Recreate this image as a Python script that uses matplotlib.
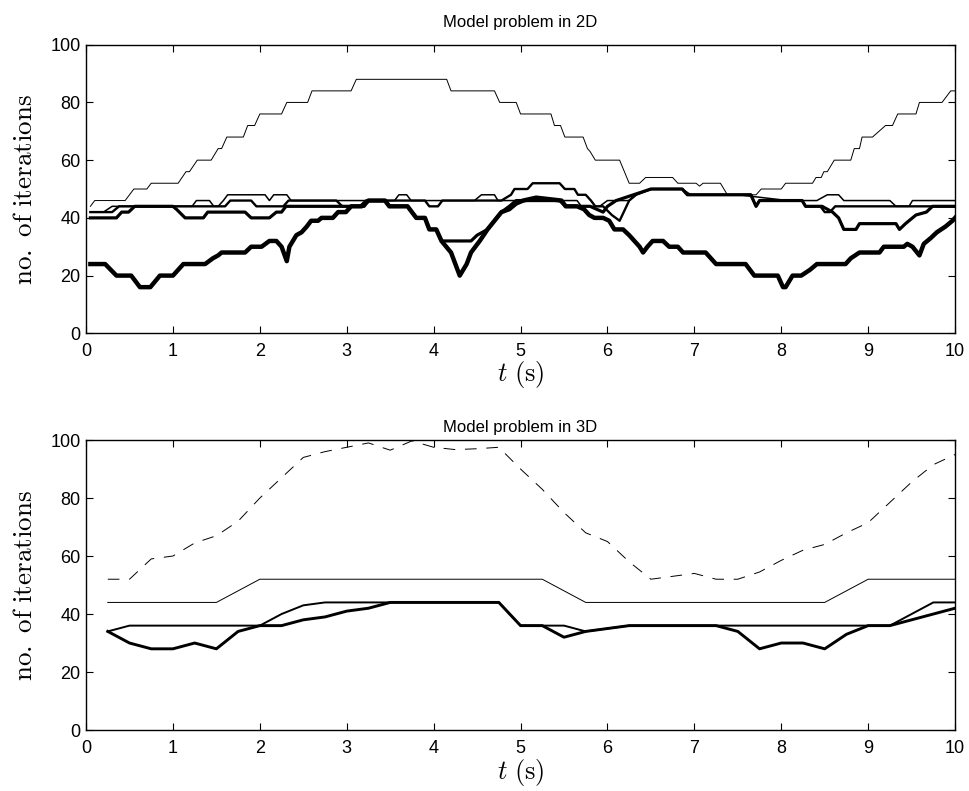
import matplotlib
matplotlib.use("Agg")
import matplotlib.pyplot as plt

plt.rcParams['font.family'] = ['Liberation Sans', 'DejaVu Sans']
plt.rcParams['mathtext.fontset'] = 'cm'

# ---- Model problem in 2D: vertices (time, iterations) of each curve ----
t2d_thin = [0.05, 0.10, 0.45, 0.55, 0.70, 0.75, 1.06, 1.15, 1.19, 1.28, 1.44, 1.52, 1.56, 1.62,
            1.81, 1.86, 1.94, 2.00, 2.25, 2.31, 2.55, 2.60, 3.05, 3.11, 4.15, 4.20, 4.70, 4.76,
            4.95, 5.00, 5.35, 5.39, 5.46, 5.51, 5.72, 5.77, 5.80, 5.86, 6.14, 6.25, 6.37, 6.44,
            6.75, 6.81, 7.02, 7.06, 7.10, 7.30, 7.38, 7.71, 7.77, 8.00, 8.05, 8.36, 8.40, 8.46,
            8.49, 8.53, 8.61, 8.80, 8.84, 8.90, 8.93, 9.05, 9.20, 9.28, 9.34, 9.55, 9.59, 9.85,
            9.95, 10.0]
n2d_thin = [44, 46, 46, 50, 50, 52, 52, 56, 56, 60, 60, 64, 64, 68,
            68, 72, 72, 76, 76, 80, 80, 84, 84, 88, 88, 84, 84, 80,
            80, 76, 76, 72, 72, 68, 68, 64, 63, 60, 60, 52, 52, 54,
            54, 52, 52, 51, 52, 52, 48, 48, 50, 50, 52, 52, 54, 54,
            56, 56, 60, 60, 64, 64, 68, 68, 72, 72, 76, 76, 80, 80,
            84, 84]

t2d_a = [0.05, 0.20, 0.30, 1.22, 1.27, 1.42, 1.47, 1.52, 1.58, 1.63, 2.06, 2.11, 2.16, 2.31,
         2.36, 3.55, 3.60, 3.69, 3.74, 4.47, 4.55, 4.70, 4.74, 5.65, 5.70, 5.91, 6.00, 6.25,
         6.31, 6.52, 6.86, 6.96, 7.51, 8.07, 8.41, 8.53, 8.66, 8.72, 9.25, 9.32, 9.47, 9.51, 10.0]
n2d_a = [42, 42, 44, 44, 46, 46, 44, 44, 46, 48, 48, 46, 48, 48,
         46, 46, 48, 48, 46, 46, 48, 48, 46, 46, 44, 44, 46, 46,
         48, 50, 50, 48, 48, 46, 46, 48, 48, 46, 46, 44, 44, 46, 46]

t2d_b = [0.05, 0.30, 0.38, 1.60, 1.66, 1.90, 1.96, 2.27, 2.33, 2.88, 2.95, 3.15, 3.22, 3.90,
         3.95, 4.05, 4.10, 4.78, 4.89, 4.93, 5.08, 5.14, 5.45, 5.51, 5.62, 5.66, 5.75, 5.81,
         5.86, 5.95, 6.05, 6.14, 6.25, 6.33, 6.50, 6.86, 6.92, 7.65, 7.71, 7.75, 8.24, 8.28,
         8.45, 8.50, 8.56, 8.62, 10.0]
n2d_b = [42, 42, 44, 44, 46, 46, 44, 44, 46, 46, 44, 44, 46, 46,
         44, 44, 46, 46, 48, 50, 50, 52, 52, 50, 50, 48, 48, 46,
         44, 44, 41, 39, 46, 48, 50, 50, 48, 48, 44, 46, 46, 44,
         44, 42, 42, 44, 44]

t2d_c = [0.05, 0.35, 0.41, 0.49, 0.56, 1.00, 1.04, 1.14, 1.35, 1.40, 1.83, 1.90, 2.11, 2.19,
         2.25, 2.30, 3.20, 3.25, 3.44, 3.49, 3.70, 3.80, 3.90, 3.95, 4.03, 4.09, 4.43, 4.50,
         4.62, 4.78, 4.87, 4.95, 5.45, 5.52, 5.80, 5.95, 6.00, 6.10, 6.30, 6.50, 6.86, 6.92,
         7.65, 7.71, 7.75, 8.24, 8.28, 8.47, 8.59, 8.66, 8.72, 8.86, 8.90, 9.32, 9.36, 9.43,
         9.55, 9.67, 9.74, 10.0]
n2d_c = [40, 40, 42, 42, 44, 44, 43, 40, 40, 42, 42, 40, 40, 42,
         42, 44, 44, 46, 46, 44, 44, 40, 40, 36, 36, 32, 32, 34,
         36, 42, 44, 46, 46, 44, 44, 42, 44, 46, 48, 50, 50, 48,
         48, 44, 46, 46, 44, 44, 42, 40, 36, 36, 38, 38, 36, 38,
         41, 42, 44, 44]

t2d_d = [0.05, 0.22, 0.35, 0.52, 0.62, 0.74, 0.85, 1.00, 1.12, 1.37, 1.46, 1.52, 1.56, 1.83,
         1.90, 2.02, 2.11, 2.19, 2.25, 2.31, 2.34, 2.42, 2.48, 2.54, 2.59, 2.67, 2.71, 2.84,
         2.90, 2.99, 3.05, 3.17, 3.25, 3.44, 3.49, 3.70, 3.80, 3.90, 3.95, 4.03, 4.09, 4.20,
         4.30, 4.38, 4.43, 4.53, 4.62, 4.78, 4.87, 4.95, 5.03, 5.18, 5.47, 5.52, 5.65, 5.73,
         5.79, 5.85, 5.95, 6.02, 6.08, 6.18, 6.25, 6.31, 6.37, 6.41, 6.46, 6.52, 6.64, 6.71,
         6.81, 6.87, 7.13, 7.25, 7.59, 7.69, 7.96, 8.02, 8.05, 8.13, 8.23, 8.33, 8.41, 8.48,
         8.74, 8.80, 8.90, 9.13, 9.18, 9.41, 9.45, 9.51, 9.59, 9.64, 9.72, 9.79, 9.89, 9.97,
         10.0]
n2d_d = [24, 24, 20, 20, 16, 16, 20, 20, 24, 24, 26, 27, 28, 28,
         30, 30, 32, 32, 30, 25, 30, 34, 35, 37, 39, 39, 40, 40,
         42, 42, 44, 44, 46, 46, 44, 44, 40, 40, 36, 36, 32, 28,
         20, 24, 28, 32, 36, 42, 43, 45, 46, 47, 46, 44, 44, 43,
         41, 40, 40, 39, 36, 36, 34, 32, 30, 28, 30, 32, 32, 30,
         30, 28, 28, 24, 24, 20, 20, 16, 16, 20, 20, 22, 24, 24,
         24, 26, 28, 28, 30, 30, 31, 30, 27, 31, 33, 35, 37, 39,
         40]

# ---- Model problem in 3D: one value every 0.25 s ----
t3d = [0.25, 0.5, 0.75, 1.0, 1.25, 1.5, 1.75, 2.0, 2.25, 2.5,
       2.75, 3.0, 3.25, 3.5, 3.75, 4.0, 4.25, 4.5, 4.75, 5.0,
       5.25, 5.5, 5.75, 6.0, 6.25, 6.5, 6.75, 7.0, 7.25, 7.5,
       7.75, 8.0, 8.25, 8.5, 8.75, 9.0, 9.25, 9.5, 9.75, 10.0]
n3d_dashed = [52, 52, 59, 60, 64.5, 67, 72, 80, 87, 94,
              96, 97.5, 99, 96.5, 99.7, 97.5, 96.7, 97, 97.5, 90,
              83, 75, 68, 65, 58, 52, 53, 54, 52, 52,
              54.5, 58.5, 62, 64, 68, 71.5, 78.5, 85.5, 91.5, 95]
n3d_thin = [44, 44, 44, 44, 44, 44, 48, 52, 52, 52,
            52, 52, 52, 52, 52, 52, 52, 52, 52, 52,
            52, 48, 44, 44, 44, 44, 44, 44, 44, 44,
            44, 44, 44, 44, 48, 52, 52, 52, 52, 52]
n3d_mid = [34, 36, 36, 36, 36, 36, 36, 36, 40, 43,
           44, 44, 44, 44, 44, 44, 44, 44, 44, 36,
           36, 36, 34, 35, 36, 36, 36, 36, 36, 36,
           36, 36, 36, 36, 36, 36, 36, 40, 44, 44]
n3d_thick = [34, 30, 28, 28, 30, 28, 34, 36, 36, 38,
             39, 41, 42, 44, 44, 44, 44, 44, 44, 36,
             36, 32, 34, 35, 36, 36, 36, 36, 36, 34,
             28, 30, 30, 28, 33, 36, 36, 38, 40, 42]


def style_axes(ax, title, title_pad, xlabel_pad):
    ax.set_xlim(0, 10)
    ax.set_ylim(0, 100)
    ax.set_xticks(range(0, 11))
    ax.set_yticks(range(0, 101, 20))
    ax.tick_params(direction='in', length=5, width=0.8, top=True, right=True, labelsize=13)
    ax.tick_params(axis='x', pad=7)
    ax.tick_params(axis='y', pad=4)
    for sp in ax.spines.values():
        sp.set_linewidth(1.0)
    ax.set_title(title, fontsize=12, pad=title_pad)
    ax.set_xlabel(r'$t\ \mathrm{(s)}$', fontsize=19, labelpad=xlabel_pad)
    ax.set_ylabel(r'$\mathrm{no.\ of\ iterations}$', fontsize=19.5, labelpad=9)


fig = plt.figure(figsize=(9.70, 7.91), dpi=100)
ax1 = fig.add_axes([0.0887, 0.5786, 0.8959, 0.3649])
ax2 = fig.add_axes([0.0887, 0.0771, 0.8959, 0.3666])

ax1.plot(t2d_thin, n2d_thin, color='k', lw=0.7)
ax1.plot(t2d_a, n2d_a, color='k', lw=1.1)
ax1.plot(t2d_b, n2d_b, color='k', lw=1.7)
ax1.plot(t2d_c, n2d_c, color='k', lw=2.3)
ax1.plot(t2d_d, n2d_d, color='k', lw=3.2)
style_axes(ax1, 'Model problem in 2D', 13, -1)

ax2.plot(t3d, n3d_dashed, color='k', lw=0.7, dashes=(12, 10))
ax2.plot(t3d, n3d_thin, color='k', lw=0.7)
ax2.plot(t3d, n3d_mid, color='k', lw=1.4)
ax2.plot(t3d, n3d_thick, color='k', lw=2.1)
style_axes(ax2, 'Model problem in 3D', 6, 0)

fig.savefig('out.png', dpi=100)
